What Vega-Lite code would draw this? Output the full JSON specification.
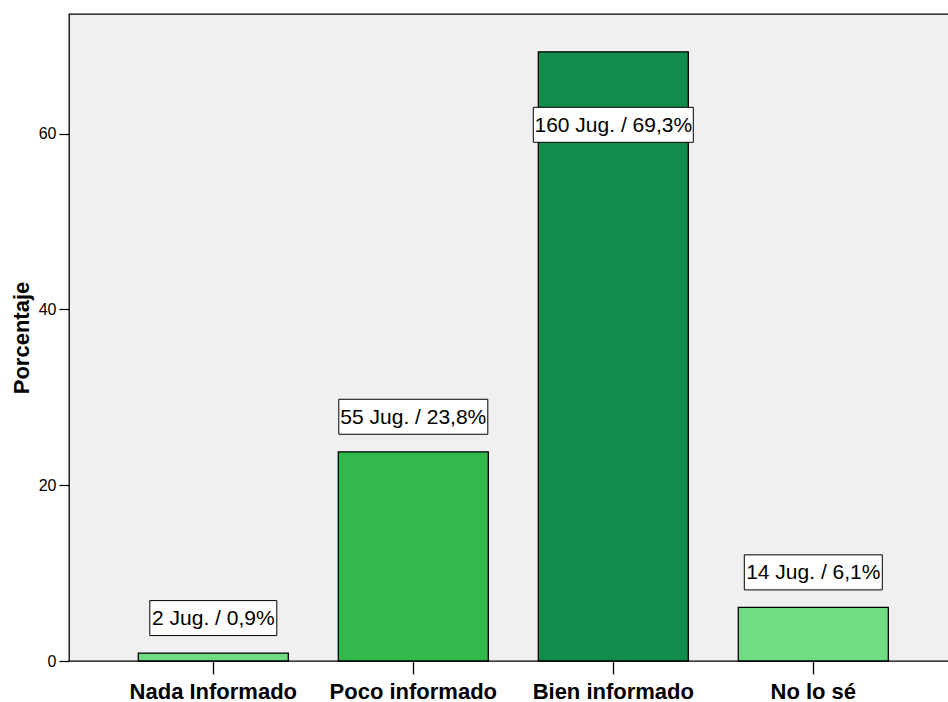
{
  "$schema": "https://vega.github.io/schema/vega-lite/v6.json",
  "width": 882,
  "height": 647,
  "autosize": "none",
  "padding": {"left": 69, "top": 14, "right": 0, "bottom": 41},
  "background": "white",
  "view": {"fill": "#f0f0f0", "stroke": "black", "strokeWidth": 1.3},
  "config": {"font": "Liberation Sans"},
  "data": {
    "values": [
      {"cat": "Nada Informado", "pct": 0.9, "n": 2, "label": "2 Jug. / 0,9%"},
      {"cat": "Poco informado", "pct": 23.8, "n": 55, "label": "55 Jug. / 23,8%"},
      {"cat": "Bien informado", "pct": 69.3, "n": 160, "label": "160 Jug. / 69,3%"},
      {"cat": "No lo sé", "pct": 6.1, "n": 14, "label": "14 Jug. / 6,1%"}
    ]
  },
  "encoding": {
    "x": {
      "field": "cat",
      "type": "nominal",
      "sort": null,
      "scale": {"paddingInner": 0.25, "paddingOuter": 0.33, "align": 0.525},
      "axis": {
        "title": null,
        "labelAngle": 0,
        "domain": false,
        "grid": false,
        "tickSize": 13,
        "tickColor": "black",
        "tickWidth": 1.3,
        "labelFontSize": 22,
        "labelFontWeight": "bold",
        "labelColor": "black",
        "labelPadding": 7
      }
    },
    "y": {
      "field": "pct",
      "type": "quantitative",
      "scale": {"domain": [0, 73.6], "nice": false},
      "axis": {
        "values": [0, 20, 40, 60],
        "title": "Porcentaje",
        "titleFontSize": 22,
        "titleFontWeight": "bold",
        "titleColor": "black",
        "titlePadding": 5,
        "domain": false,
        "grid": false,
        "tickSize": 10,
        "tickColor": "black",
        "tickWidth": 1.3,
        "labelFontSize": 16,
        "labelColor": "black",
        "labelPadding": 3
      }
    }
  },
  "layer": [
    {
      "mark": {"type": "bar", "stroke": "black", "strokeWidth": 1.3},
      "encoding": {
        "color": {
          "field": "cat",
          "type": "nominal",
          "scale": {
            "domain": ["Nada Informado", "Poco informado", "Bien informado", "No lo sé"],
            "range": ["#70dc84", "#31b94b", "#118c4a", "#70dc84"]
          },
          "legend": null
        }
      }
    },
    {
      "transform": [{"filter": "datum.pct < 50"}],
      "mark": {"type": "rect", "fill": "white", "stroke": "black", "strokeWidth": 1, "height": 35, "width": {"expr": "length(datum.label)*11-16"}, "yOffset": -35}
    },
    {
      "transform": [{"filter": "datum.pct < 50"}],
      "mark": {"type": "text", "fontSize": 21, "color": "black", "baseline": "middle", "align": "center", "dy": -34},
      "encoding": {"text": {"field": "label"}}
    },
    {
      "transform": [{"filter": "datum.pct >= 50"}],
      "mark": {"type": "rect", "fill": "white", "stroke": "black", "strokeWidth": 1, "height": 35, "width": {"expr": "length(datum.label)*11-16"}, "yOffset": 73}
    },
    {
      "transform": [{"filter": "datum.pct >= 50"}],
      "mark": {"type": "text", "fontSize": 21, "color": "black", "baseline": "middle", "align": "center", "dy": 74},
      "encoding": {"text": {"field": "label"}}
    }
  ]
}
